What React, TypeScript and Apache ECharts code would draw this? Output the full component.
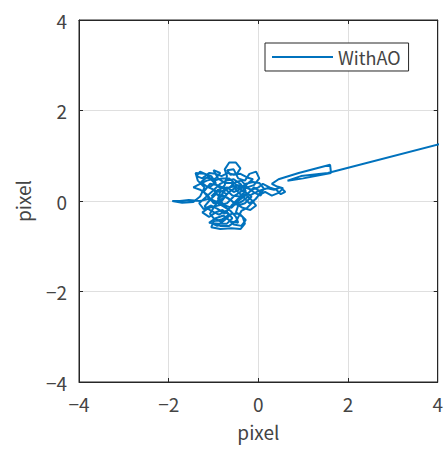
import React, { useEffect, useRef } from "react";
import * as echarts from "echarts";

const seriesName = "WithAO";
const xTicks = [-4, -2, 0, 2, 4];
const yTicks = [-4, -2, 0, 2, 4];

// trajectory [x, y] in pixels
const clusterPath: number[][] = [
  [-1.05, 0.1], [-0.9, 0.25], [-0.7, 0.15], [-0.85, -0.05], [-1.1, 0.05], [-1.3, 0.0],
  [-1.55, 0.02], [-1.75, 0.0], [-1.92, 0.0], [-1.7, -0.04], [-1.45, -0.02], [-1.3, 0.1],
  [-1.2, 0.3], [-1.35, 0.45], [-1.4, 0.62], [-1.2, 0.6], [-1.05, 0.55], [-0.95, 0.4],
  [-1.1, 0.3], [-0.9, 0.2], [-0.75, 0.35], [-0.7, 0.55], [-0.75, 0.7], [-0.65, 0.85],
  [-0.5, 0.85], [-0.4, 0.72], [-0.48, 0.6], [-0.62, 0.58], [-0.7, 0.68], [-0.55, 0.7],
  [-0.45, 0.5], [-0.3, 0.45], [-0.2, 0.6], [-0.05, 0.65], [0.02, 0.5], [-0.1, 0.35],
  [-0.25, 0.3], [-0.4, 0.2], [-0.55, 0.1], [-0.7, -0.05], [-0.9, -0.1], [-1.1, -0.15],
  [-1.25, -0.25], [-1.1, -0.35], [-0.95, -0.25], [-0.8, -0.2], [-0.65, -0.3], [-0.8, -0.4],
  [-1.0, -0.45], [-1.05, -0.58], [-0.85, -0.62], [-0.6, -0.6], [-0.4, -0.62], [-0.3, -0.5],
  [-0.35, -0.35], [-0.5, -0.25], [-0.45, -0.1], [-0.3, -0.05], [-0.15, 0.1], [-0.3, 0.2],
  [-0.5, 0.3], [-0.65, 0.2], [-0.8, 0.05], [-1.0, -0.05], [-1.15, 0.15], [-1.3, 0.25],
  [-1.45, 0.3], [-1.3, 0.38], [-1.15, 0.45], [-0.95, 0.5], [-0.85, 0.62], [-1.0, 0.68],
  [-0.9, 0.5], [-0.75, 0.4], [-0.6, 0.4], [-0.5, 0.25], [-0.35, 0.1], [-0.2, -0.05],
  [-0.05, 0.05], [0.05, 0.2], [-0.1, 0.3], [-0.25, 0.15], [-0.45, 0.0], [-0.6, -0.15],
  [-0.75, -0.1], [-0.9, 0.05], [-0.85, 0.2], [-0.65, 0.3], [-0.45, 0.35], [-0.3, 0.3],
  [-0.15, 0.25], [0.0, 0.3], [0.1, 0.38], [0.25, 0.3], [0.4, 0.25], [0.5, 0.15],
  [0.6, 0.2], [0.5, 0.3], [0.35, 0.25],
];
const corePath: number[][] = [
  [0.2, 0.28], [0.0, 0.22], [-0.2, 0.12], [-0.35, 0.0], [-0.5, -0.08], [-0.62, 0.02],
  [-0.78, 0.12], [-0.95, 0.15], [-1.1, 0.0], [-1.2, -0.12], [-1.05, -0.22], [-0.88, -0.3],
  [-0.72, -0.22], [-0.58, -0.38], [-0.7, -0.5], [-0.9, -0.5], [-1.1, -0.48], [-0.95, -0.38],
  [-0.78, -0.32], [-0.62, -0.45], [-0.45, -0.48], [-0.5, -0.35], [-0.62, -0.22], [-0.78, -0.12],
  [-0.95, -0.02], [-1.12, 0.08], [-1.22, 0.2], [-1.08, 0.38], [-0.9, 0.35], [-0.72, 0.25],
  [-0.58, 0.12], [-0.42, 0.1], [-0.28, 0.22], [-0.4, 0.38], [-0.55, 0.48], [-0.72, 0.45],
  [-0.85, 0.38], [-1.02, 0.22], [-1.18, 0.08], [-1.32, -0.05], [-1.22, -0.18], [-1.05, -0.1],
  [-0.9, -0.18], [-0.75, -0.28], [-0.6, -0.1], [-0.45, 0.05], [-0.3, 0.15], [-0.15, 0.02],
  [-0.05, -0.1], [-0.18, -0.2], [-0.35, -0.15], [-0.52, -0.05], [-0.7, 0.08], [-0.88, 0.1],
  [-1.0, 0.25], [-1.15, 0.32], [-1.28, 0.42], [-1.15, 0.52], [-0.98, 0.45], [-0.82, 0.5],
  [-0.65, 0.5], [-0.52, 0.38], [-0.38, 0.28], [-0.22, 0.4], [-0.12, 0.48], [-0.25, 0.52],
  [-0.4, 0.6], [-0.55, 0.58], [-0.68, 0.62], [-0.82, 0.55], [-0.95, 0.6], [-1.1, 0.62],
  [-1.25, 0.5], [-1.38, 0.55], [-1.3, 0.65], [-1.15, 0.58], [-1.0, 0.42], [-0.85, 0.28],
  [-0.7, 0.3], [-0.55, 0.2], [-0.42, 0.25], [-0.28, 0.38], [-0.12, 0.42], [0.02, 0.4],
  [0.12, 0.28], [0.05, 0.12], [-0.08, 0.18], [-0.22, 0.28], [-0.38, 0.45], [-0.5, 0.42],
  [-0.62, 0.32], [-0.78, 0.2], [-0.92, -0.02], [-1.08, -0.28], [-1.0, -0.38], [-0.85, -0.45],
  [-0.7, -0.38], [-0.55, -0.52], [-0.38, -0.55], [-0.28, -0.42], [-0.42, -0.28], [-0.6, -0.28],
  [-0.75, -0.42], [-0.92, -0.55], [-1.02, -0.5], [-0.85, -0.55], [-0.65, -0.55], [-0.48, -0.42],
  [-0.38, -0.22], [-0.25, -0.15], [-0.12, -0.02], [0.0, 0.12], [0.15, 0.2], [0.3, 0.12],
  [0.45, 0.18], [0.55, 0.28], [0.42, 0.32], [0.3, 0.38],
];
const tailPath: number[][] = [
  [0.45, 0.48], [0.9, 0.62], [1.6, 0.8], [1.62, 0.62], [1.0, 0.5], [0.65, 0.45],
  [0.95, 0.55], [1.55, 0.62], [4.2, 1.3],
];

export default function App() {
  const ref = useRef<HTMLDivElement>(null);
  useEffect(() => {
    const chart = echarts.init(ref.current!, undefined, { renderer: "svg" });
    const font = "'Noto Sans CJK JP', 'Noto Sans', sans-serif";
    const txt = "#444444";
    const axisCommon = {
      type: "value" as const,
      min: -4,
      max: 4,
      interval: 2,
    };
    chart.setOption({
      animation: false,
      textStyle: { fontFamily: font },
      grid: {
        left: 79, right: 6, top: 20, bottom: 67,
        show: true, borderColor: "#262626", borderWidth: 1, backgroundColor: "#fff",
      },
      legend: {
        data: [{ name: seriesName, icon: "rect" }],
        left: 265,
        top: 43,
        orient: "horizontal",
        itemWidth: 61,
        itemHeight: 2,
        itemGap: 0,
        padding: [5, 8, 5, 7],
        borderColor: "#262626",
        borderWidth: 1,
        backgroundColor: "#fff",
        textStyle: { fontSize: 18, color: txt, fontFamily: font },
      },
      xAxis: [
        {
          ...axisCommon,
          position: "bottom",
          name: "pixel",
          nameLocation: "middle",
          nameGap: 40,
          nameTextStyle: { fontSize: 19, color: txt, fontFamily: font },
          axisLine: { show: true, onZero: false, lineStyle: { color: "#262626" } },
          axisTick: { show: true, inside: true, length: 4, lineStyle: { color: "#262626" } },
          axisLabel: {
            fontSize: 19, color: txt, margin: 12, fontFamily: font,
            formatter: (v: number) => (xTicks.includes(v) ? String(v).replace("-", "\u2212") : ""),
          },
          splitLine: { show: true, lineStyle: { color: "#dfdfdf" } },
        },
        {
          ...axisCommon,
          position: "top",
          axisLine: { show: true, onZero: false, lineStyle: { color: "#262626" } },
          axisTick: { show: true, inside: true, length: 4, lineStyle: { color: "#262626" } },
          axisLabel: { show: false },
          splitLine: { show: false },
        },
      ],
      yAxis: [
        {
          ...axisCommon,
          position: "left",
          name: "pixel",
          nameLocation: "middle",
          nameGap: 47,
          nameTextStyle: { fontSize: 19, color: txt, fontFamily: font },
          axisLine: { show: true, onZero: false, lineStyle: { color: "#262626" } },
          axisTick: { show: true, inside: true, length: 4, lineStyle: { color: "#262626" } },
          axisLabel: {
            fontSize: 19, color: txt, margin: 12, fontFamily: font,
            formatter: (v: number) => (yTicks.includes(v) ? String(v).replace("-", "\u2212") : ""),
          },
          splitLine: { show: true, lineStyle: { color: "#dfdfdf" } },
        },
        {
          ...axisCommon,
          position: "right",
          axisLine: { show: true, onZero: false, lineStyle: { color: "#262626" } },
          axisTick: { show: true, inside: true, length: 4, lineStyle: { color: "#262626" } },
          axisLabel: { show: false },
          splitLine: { show: false },
        },
      ],
      series: [
        {
          name: seriesName,
          type: "line",
          data: [...clusterPath, ...corePath, ...tailPath],
          showSymbol: false,
          symbol: "none",
          clip: true,
          lineStyle: { color: "#0072BD", width: 2 },
          itemStyle: { color: "#0072BD" },
        },
      ],
    });
    return () => chart.dispose();
  }, []);
  return <div ref={ref} style={{ width: 446, height: 449, position: "absolute", left: 0, top: 0 }} />;
}
